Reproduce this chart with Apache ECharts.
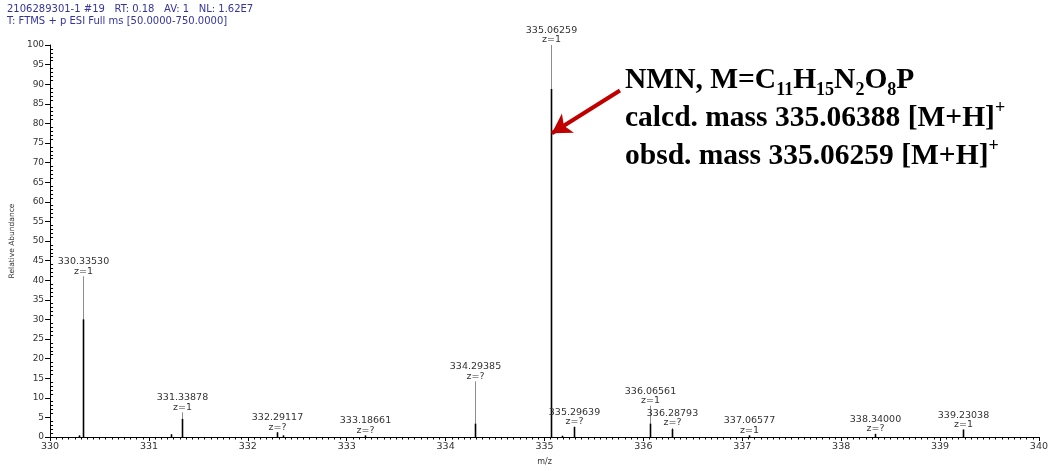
<!DOCTYPE html>
<html>
<head>
<meta charset="utf-8">
<script src="https://cdn.jsdelivr.net/npm/echarts@6/dist/echarts.min.js"></script>
<style>
  html, body { margin: 0; padding: 0; background: #fff; }
  #chart { width: 1051px; height: 471px; }
</style>
</head>
<body>
<div id="chart"></div>
<script>
// Centroid m/z of each peak in the 330-340 window
const peakMz = [330.29, 330.33530, 331.22, 331.33878, 332.29117, 332.36, 333.18661,
  334.29385, 335.06259, 335.18, 335.29639, 336.06561, 336.28793, 337.06577,
  338.34000, 339.23038];
// Relative abundance at the apex of each peak (%)
const peakTop = [0.4, 41, 0.7, 6.3, 1.2, 0.4, 0.4, 14.2, 100, 0.3, 2.6, 8.0, 2.3, 0.4, 0.8, 1.9];
// Abundance up to which the profile trace is dense (drawn darker)
const peakCore = [0.4, 30, 0.7, 4.6, 1.2, 0.4, 0.4, 3.4, 88.8, 0.3, 2.6, 3.4, 2.0, 0.4, 0.8, 1.9];
// Charge state annotation ('' = peak not labelled)
const peakCharge = ['', 'z=1', '', 'z=1', 'z=?', '', 'z=?', 'z=?', 'z=1', '', 'z=?',
  'z=1', 'z=?', 'z=1', 'z=?', 'z=1'];

// Axis ranges
const mzMin = 330, mzMax = 340, mzStep = 1;
const abMin = 0, abMax = 100, abStep = 5;

// Header lines of the scan
const headerLines = [
  '2106289301-1 #19   RT: 0.18   AV: 1   NL: 1.62E7',
  'T: FTMS + p ESI Full ms [50.0000-750.0000]'
];

// Arrow pointing at the base peak: [m/z, abundance] for tail and head
const arrowTail = [335.763, 88.4];
const arrowHead = [335.074, 77.5];

const peakData = peakMz.map((mz, i) => [mz, peakTop[i], peakCore[i], peakCharge[i]]);

const labelFont = { fontFamily: 'DejaVu Sans, Verdana, sans-serif', fontSize: 9.5, fill: '#333' };

const chart = echarts.init(document.getElementById('chart'), null, { renderer: 'canvas' });

chart.setOption({
  backgroundColor: '#fff',
  animation: false,
  grid: { left: 50, right: 12, top: 45, bottom: 24 },
  xAxis: {
    type: 'value',
    min: mzMin, max: mzMax, interval: mzStep,
    name: 'm/z', nameLocation: 'middle', nameGap: 21,
    nameTextStyle: { fontFamily: 'DejaVu Sans, Verdana', fontSize: 8, color: '#333' },
    axisLine: { lineStyle: { color: '#000', width: 1 } },
    axisTick: { length: 4, lineStyle: { color: '#000' } },
    minorTick: { show: true, splitNumber: 16, length: 2.5, lineStyle: { color: '#000' } },
    axisLabel: { fontFamily: 'DejaVu Sans, Verdana', fontSize: 9.5, color: '#333', margin: 5 },
    splitLine: { show: false }
  },
  yAxis: [{
    type: 'value',
    min: abMin, max: abMax, interval: abStep,
    name: 'Relative Abundance', nameLocation: 'middle', nameGap: 27, nameRotate: 90,
    nameTextStyle: { fontFamily: 'DejaVu Sans, Verdana', fontSize: 7.5, color: '#333' },
    axisLine: { show: true, lineStyle: { color: '#000', width: 1 } },
    axisTick: { show: true, length: 5, lineStyle: { color: '#000' } },
    axisLabel: { fontFamily: 'DejaVu Sans, Verdana', fontSize: 9, color: '#333', margin: 6 },
    splitLine: { show: false }
  }, {
    // overlay axis that carries the inward-facing minor ticks
    type: 'value',
    min: abMin, max: abMax, interval: abStep,
    position: 'left',
    axisLine: { show: false },
    axisTick: { show: false, inside: true },
    minorTick: { show: true, splitNumber: 5, length: 3, lineStyle: { color: '#000' } },
    axisLabel: { show: false },
    splitLine: { show: false }
  }],
  graphic: [{
    type: 'text', left: 7, top: 3,
    style: {
      text: headerLines.join('\n'),
      fontFamily: 'DejaVu Sans, Verdana', fontSize: 10, lineHeight: 12,
      fill: '#34349e'
    }
  }, {
    type: 'text', left: 625, top: 65,
    style: {
      text: '{b|NMN, M=C}{sub|11}{b|H}{sub|15}{b|N}{sub|2}{b|O}{sub|8}{b|P}\n' +
            '{b|calcd. mass 335.06388 [M+H]}{sup|+}\n' +
            '{b|obsd. mass 335.06259 [M+H]}{sup|+}',
      rich: {
        b: { fontFamily: 'Liberation Serif, Times New Roman, serif', fontWeight: 'bold', fontSize: 29.5, lineHeight: 38, fill: '#000' },
        sub: { fontFamily: 'Liberation Serif, Times New Roman, serif', fontWeight: 'bold', fontSize: 18, lineHeight: 22, verticalAlign: 'bottom', fill: '#000' },
        sup: { fontFamily: 'Liberation Serif, Times New Roman, serif', fontWeight: 'bold', fontSize: 18, lineHeight: 20, verticalAlign: 'top', fill: '#000' }
      }
    }
  }],
  series: [{
    type: 'custom',
    coordinateSystem: 'cartesian2d',
    data: peakData,
    encode: { x: 0, y: 1 },
    renderItem: function (params, api) {
      const mz = api.value(0);
      const top = api.value(1);
      const core = api.value(2);
      const charge = peakData[params.dataIndex][3];
      const pBase = api.coord([mz, 0]);
      const pTop = api.coord([mz, top]);
      const pCore = api.coord([mz, core]);
      const x = Math.round(pBase[0]) + 0.5;
      const children = [{
        type: 'line',
        shape: { x1: x, y1: pTop[1], x2: x, y2: pBase[1] },
        style: { stroke: '#8c8c8c', lineWidth: 1 }
      }, {
        type: 'line',
        shape: { x1: x, y1: pCore[1], x2: x, y2: pBase[1] },
        style: { stroke: '#000', lineWidth: 1.6 }
      }];
      if (charge) {
        children.push({
          type: 'text',
          style: Object.assign({ text: mz.toFixed(5), x: x, y: pTop[1] - 9.5, align: 'center', verticalAlign: 'bottom' }, labelFont)
        }, {
          type: 'text',
          style: Object.assign({ text: charge, x: x, y: pTop[1], align: 'center', verticalAlign: 'bottom' }, labelFont)
        });
      }
      return { type: 'group', children: children };
    }
  }, {
    type: 'line',
    data: [],
    silent: true,
    markLine: {
      silent: true,
      animation: false,
      symbol: ['none', 'arrow'],
      symbolSize: [17, 19],
      label: { show: false },
      lineStyle: { color: '#c00000', width: 4, type: 'solid' },
      data: [[{ coord: arrowTail }, { coord: arrowHead }]]
    }
  }]
});
</script>
</body>
</html>
